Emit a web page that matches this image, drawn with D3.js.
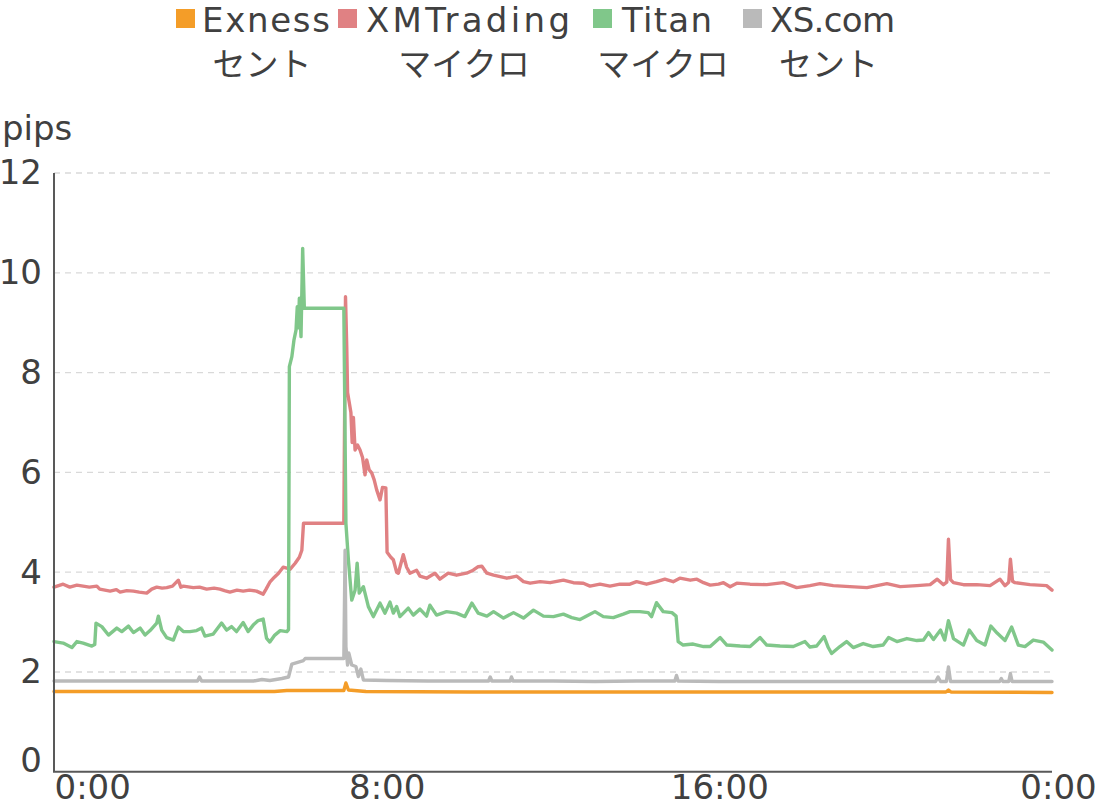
<!DOCTYPE html>
<html>
<head>
<meta charset="utf-8">
<script src="https://cdn.jsdelivr.net/npm/d3@7"></script>
<style>
html,body{margin:0;padding:0;background:#fff;}
svg{display:block;font-family:"DejaVu Sans","Noto Sans CJK JP",sans-serif;}
</style>
</head>
<body>
<svg id="chart" width="1100" height="807"></svg>
<script>
// ---- data (hours since 0:00, spread in pips) ----
const seriesNames = ["Exness\nセント", "XMTrading\nマイクロ", "Titan\nマイクロ", "XS.com\nセント"];
const seriesColors = ["#F49D28", "#E08183", "#80C78A", "#BABABA"];
const yTicks = [0, 2, 4, 6, 8, 10, 12];
const xTicks = [0, 8, 16, 24];
const xTickLabels = ["0:00", "8:00", "16:00", "0:00"];
const yUnit = "pips";

const exness = [[0,1.61],[2,1.61],[4,1.61],[5.3,1.61],[5.6,1.63],[6,1.63],[6.97,1.63],[7.02,1.78],[7.08,1.64],[7.5,1.61],[10,1.6],[14,1.6],[18,1.6],[21.45,1.6],[21.51,1.64],[21.57,1.6],[24,1.59]];

const xmtrading = [[0,3.7],[0.22,3.76],[0.38,3.7],[0.55,3.74],[0.7,3.72],[0.85,3.7],[1.03,3.72],[1.1,3.66],[1.35,3.62],[1.5,3.65],[1.59,3.6],[1.75,3.63],[1.91,3.62],[2.05,3.6],[2.23,3.58],[2.35,3.66],[2.47,3.7],[2.6,3.68],[2.71,3.69],[2.85,3.72],[2.99,3.84],[3.05,3.7],[3.11,3.72],[3.35,3.69],[3.5,3.7],[3.67,3.66],[3.85,3.68],[3.99,3.66],[4.1,3.63],[4.23,3.6],[4.4,3.64],[4.55,3.62],[4.7,3.64],[4.87,3.62],[5.03,3.56],[5.1,3.66],[5.19,3.8],[5.3,3.9],[5.4,3.98],[5.51,4.1],[5.6,4.08],[5.68,4.06],[5.8,4.18],[5.9,4.3],[5.96,4.44],[6.0,4.98],[6.97,4.98],[7.01,9.52],[7.04,8.5],[7.06,7.6],[7.1,7.4],[7.14,7.2],[7.17,6.6],[7.2,7.1],[7.24,6.45],[7.3,6.55],[7.36,6.45],[7.42,6.3],[7.48,5.95],[7.52,6.25],[7.58,6.05],[7.64,5.99],[7.7,5.85],[7.76,5.65],[7.84,5.45],[7.9,5.7],[7.98,5.69],[8.01,4.4],[8.1,4.3],[8.16,4.25],[8.24,4.0],[8.28,3.98],[8.4,4.35],[8.48,4.1],[8.56,3.98],[8.64,4.01],[8.72,4.04],[8.8,3.92],[8.96,3.88],[9.16,3.98],[9.28,3.86],[9.48,3.98],[9.68,3.94],[9.92,3.98],[10.08,4.04],[10.2,4.11],[10.29,4.12],[10.41,3.98],[10.57,3.94],[10.73,3.91],[10.89,3.88],[11.13,3.92],[11.29,3.81],[11.45,3.78],[11.69,3.81],[11.93,3.79],[12.25,3.84],[12.49,3.79],[12.73,3.78],[12.89,3.72],[13.13,3.76],[13.37,3.72],[13.61,3.76],[13.85,3.76],[14.01,3.81],[14.25,3.76],[14.49,3.81],[14.69,3.86],[14.89,3.81],[15.05,3.88],[15.3,3.84],[15.46,3.86],[15.62,3.79],[15.78,3.74],[15.98,3.76],[16.1,3.79],[16.26,3.71],[16.42,3.78],[16.74,3.76],[17.14,3.75],[17.54,3.79],[17.86,3.69],[18.18,3.73],[18.42,3.77],[18.74,3.73],[19.14,3.71],[19.55,3.69],[20.03,3.77],[20.35,3.71],[20.75,3.73],[21.07,3.75],[21.24,3.86],[21.39,3.75],[21.47,3.8],[21.51,4.66],[21.56,3.85],[21.63,3.79],[21.87,3.75],[22.19,3.75],[22.51,3.73],[22.75,3.86],[22.87,3.73],[22.96,3.8],[23.0,4.26],[23.05,3.82],[23.11,3.79],[23.47,3.75],[23.87,3.73],[24,3.64]];

const titan = [[0,2.61],[0.22,2.58],[0.43,2.49],[0.55,2.61],[0.7,2.58],[0.91,2.52],[0.98,2.55],[1.01,2.98],[1.15,2.91],[1.31,2.74],[1.51,2.88],[1.63,2.81],[1.79,2.92],[1.91,2.79],[2.07,2.88],[2.19,2.74],[2.31,2.83],[2.47,2.98],[2.51,3.12],[2.59,2.84],[2.71,2.69],[2.87,2.64],[2.99,2.9],[3.11,2.81],[3.27,2.81],[3.43,2.83],[3.55,2.88],[3.63,2.72],[3.83,2.76],[4.03,2.98],[4.15,2.84],[4.27,2.91],[4.39,2.81],[4.55,2.99],[4.67,2.81],[4.79,2.94],[4.91,3.03],[5.03,3.06],[5.11,2.68],[5.19,2.6],[5.31,2.74],[5.44,2.83],[5.6,2.81],[5.64,2.85],[5.66,8.12],[5.72,8.32],[5.77,8.65],[5.82,8.85],[5.85,9.32],[5.88,8.9],[5.9,9.49],[5.94,8.72],[5.98,10.49],[6.02,9.29],[6.97,9.29],[7.02,4.98],[7.08,4.24],[7.16,3.44],[7.24,3.64],[7.29,4.18],[7.34,3.58],[7.44,3.71],[7.56,3.31],[7.68,3.11],[7.84,3.38],[7.96,3.18],[8.08,3.4],[8.16,3.18],[8.24,3.31],[8.32,3.11],[8.52,3.28],[8.64,3.14],[8.8,3.26],[8.96,3.12],[9.04,3.34],[9.2,3.14],[9.44,3.21],[9.68,3.18],[9.88,3.11],[10.05,3.38],[10.2,3.18],[10.41,3.12],[10.57,3.21],[10.81,3.08],[11.05,3.19],[11.29,3.08],[11.53,3.24],[11.77,3.12],[12.01,3.11],[12.25,3.16],[12.45,3.09],[12.65,3.05],[12.81,3.12],[13.01,3.21],[13.21,3.11],[13.45,3.09],[13.69,3.16],[13.85,3.21],[14.09,3.21],[14.29,3.19],[14.37,3.11],[14.49,3.39],[14.65,3.21],[14.86,3.19],[14.96,3.12],[15.01,2.61],[15.13,2.54],[15.37,2.56],[15.62,2.51],[15.78,2.51],[16.02,2.69],[16.18,2.54],[16.5,2.52],[16.74,2.51],[16.98,2.69],[17.14,2.54],[17.46,2.52],[17.78,2.51],[18.06,2.61],[18.18,2.5],[18.34,2.52],[18.52,2.71],[18.62,2.49],[18.7,2.37],[18.9,2.51],[19.06,2.61],[19.22,2.49],[19.46,2.57],[19.7,2.51],[19.94,2.54],[20.07,2.69],[20.27,2.61],[20.51,2.67],[20.75,2.63],[20.91,2.64],[21.03,2.79],[21.15,2.65],[21.32,2.84],[21.42,2.64],[21.51,3.03],[21.63,2.67],[21.87,2.54],[22.01,2.84],[22.19,2.63],[22.39,2.54],[22.53,2.92],[22.68,2.78],[22.87,2.63],[23.03,2.9],[23.19,2.54],[23.35,2.51],[23.55,2.64],[23.79,2.6],[24,2.44]];

const xscom = [[0,1.82],[1,1.82],[2,1.82],[3.45,1.82],[3.5,1.9],[3.55,1.82],[4.8,1.82],[5.0,1.85],[5.19,1.83],[5.48,1.87],[5.64,1.9],[5.72,2.16],[5.84,2.19],[6.0,2.23],[6.04,2.27],[6.97,2.27],[7.0,4.44],[7.02,2.51],[7.06,2.14],[7.09,2.38],[7.16,2.14],[7.26,2.11],[7.32,1.91],[7.38,2.06],[7.44,1.84],[8,1.83],[9,1.82],[10.45,1.82],[10.49,1.9],[10.53,1.82],[10.97,1.82],[11.0,1.9],[11.04,1.82],[12,1.82],[13,1.81],[14,1.82],[14.93,1.82],[14.97,1.93],[15.01,1.82],[16,1.81],[18,1.81],[20,1.81],[21.2,1.81],[21.26,1.9],[21.32,1.81],[21.46,1.81],[21.51,2.1],[21.56,1.81],[22.74,1.81],[22.78,1.87],[22.82,1.81],[22.96,1.81],[23.0,1.97],[23.04,1.81],[24,1.81]];

const allSeries = [exness, xmtrading, titan, xscom];

// ---- layout ----
(function draw() {
const svg = d3.select("#chart");
const plotL = 54, plotR = 1052, plotT = 173, plotB = 771.8;
const textColor = "#404040";

const x = d3.scaleLinear().domain([0, 24]).range([plotL, plotR]);
const y = d3.scaleLinear().domain([0, 12]).range([plotB, plotT]);

// gridlines
svg.append("g").selectAll("line")
  .data(yTicks.filter(d => d > 0))
  .join("line")
  .attr("x1", plotL).attr("x2", plotR)
  .attr("y1", d => y(d)).attr("y2", d => y(d))
  .attr("stroke", "#d9d9d9").attr("stroke-width", 1.3)
  .attr("stroke-dasharray", "6,5");

// lines
const line = d3.line().x(d => x(d[0])).y(d => y(d[1]));
svg.append("g").selectAll("path")
  .data(allSeries)
  .join("path")
  .attr("d", d => line(d))
  .attr("fill", "none")
  .attr("stroke", (d, i) => seriesColors[i])
  .attr("stroke-width", 3.4)
  .attr("stroke-linejoin", "round")
  .attr("stroke-linecap", "round");

// y axis
const yAxis = svg.append("g")
  .attr("transform", `translate(${plotL},0)`)
  .call(d3.axisLeft(y).tickValues(yTicks).tickSize(0).tickPadding(12).tickFormat(d3.format("d")));
yAxis.select(".domain").remove();
yAxis.selectAll("text")
  .attr("font-size", 34).attr("fill", textColor)
  .attr("font-family", "DejaVu Sans")
  .attr("dy", d => d === 0 ? "0.0em" : "0.32em");

// x axis
const xAxis = svg.append("g")
  .attr("transform", `translate(0,${plotB})`)
  .call(d3.axisBottom(x).tickValues(xTicks).tickSize(0).tickPadding(3).tickFormat((d, i) => xTickLabels[i]));
xAxis.select(".domain").remove();
xAxis.selectAll("text")
  .attr("font-size", 34).attr("fill", textColor)
  .attr("font-family", "DejaVu Sans")
  .attr("text-anchor", (d, i) => i === 0 ? "start" : "middle")
  .attr("dx", (d, i) => i === 0 ? 0 : (i === xTicks.length - 1 ? 6 : 0));

// axis lines
svg.append("line").attr("x1", plotL).attr("x2", plotL).attr("y1", plotT).attr("y2", plotB)
  .attr("stroke", "#595959").attr("stroke-width", 2);
svg.append("line").attr("x1", plotL - 1).attr("x2", plotR).attr("y1", plotB).attr("y2", plotB)
  .attr("stroke", "#595959").attr("stroke-width", 2);

// unit label
svg.append("text").attr("x", 2).attr("y", 140).text(yUnit)
  .attr("font-size", 34).attr("fill", textColor).attr("font-family", "DejaVu Sans");

// legend
const legendSquareX = [176, 338, 593, 743];
const legendTextX = [202, 366, 622, 770];
const legendTextW = [128, 204, 90, 125];
const legend = svg.append("g");
seriesNames.forEach((name, i) => {
  const parts = name.split("\n");
  legend.append("rect").attr("x", legendSquareX[i]).attr("y", 9).attr("width", 19).attr("height", 19)
    .attr("fill", seriesColors[i]);
  legend.append("text").attr("x", legendTextX[i]).attr("y", 32)
    .attr("font-size", 34).attr("fill", textColor).attr("font-family", "DejaVu Sans")
    .attr("textLength", legendTextW[i]).attr("lengthAdjust", "spacing")
    .text(parts[0]);
  legend.append("text").attr("x", legendTextX[i] + legendTextW[i] / 2 - 4).attr("y", 76)
    .attr("text-anchor", "middle")
    .attr("font-size", 33).attr("fill", textColor).attr("font-family", "Noto Sans CJK JP")
    .text(parts[1]);
});
})();
</script>
</body>
</html>
